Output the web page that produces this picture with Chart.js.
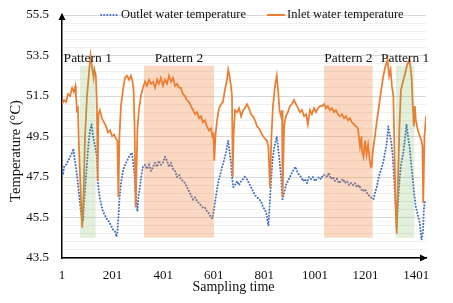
<!DOCTYPE html>
<html>
<head>
<meta charset="utf-8">
<script src="https://cdn.jsdelivr.net/npm/chart.js@4.4.1/dist/chart.umd.min.js"></script>
<style>
  html, body { margin: 0; padding: 0; background: #fff; }
  #wrap { width: 453px; height: 303px; }
</style>
</head>
<body>
<div id="wrap"><canvas id="tempChart" width="453" height="303"></canvas></div>
<script>
// sampling index ticks and y axis labels
const xTickValues = [1, 201, 401, 601, 801, 1001, 1201, 1401];
const yTickValues = [43.5, 45.5, 47.5, 49.5, 51.5, 53.5, 55.5];

// inlet water temperature (orange)
const inletSample = [
  1, 9, 17, 25, 33, 41, 48, 54, 56, 60,
  64, 68, 74, 81, 86, 92, 100, 108, 114, 120,
  126, 129, 135, 139, 142, 145, 151, 159, 167, 175,
  183, 191, 199, 207, 214, 220, 224, 228, 234, 242,
  250, 258, 266, 274, 280, 284, 288, 292, 295, 299,
  305, 313, 321, 329, 337, 345, 353, 361, 369, 377,
  384, 392, 400, 408, 416, 424, 432, 440, 448, 456,
  464, 471, 479, 487, 495, 503, 511, 519, 527, 535,
  543, 550, 558, 566, 574, 582, 590, 596, 600, 603,
  608, 614, 622, 630, 637, 645, 653, 658, 663, 669,
  673, 676, 679, 685, 693, 701, 709, 717, 724, 732,
  740, 748, 756, 764, 772, 780, 788, 796, 803, 811,
  817, 823, 829, 835, 843, 850, 855, 861, 867, 871,
  873, 879, 886, 894, 902, 910, 918, 926, 934, 942,
  950, 958, 966, 973, 981, 989, 997, 1005, 1013, 1021,
  1029, 1037, 1045, 1052, 1060, 1068, 1076, 1084, 1092, 1100,
  1108, 1116, 1124, 1132, 1139, 1147, 1155, 1163, 1171, 1179,
  1185, 1187, 1193, 1199, 1205, 1211, 1217, 1222, 1225, 1230,
  1238, 1246, 1254, 1262, 1270, 1278, 1288, 1294, 1300, 1305,
  1311, 1315, 1319, 1324, 1329, 1335, 1341, 1349, 1357, 1365,
  1373, 1379, 1383, 1387, 1392, 1396, 1400, 1408, 1416, 1422,
  1426, 1429, 1434, 1440
];
const inletTemp = [
  51.1, 51.3, 51.2, 51.6, 51.5, 51.9, 51.7, 52.0, 51.6, 50.8,
  50.9, 49.0, 47.0, 45.0, 46.5, 49.5, 51.5, 52.7, 53.5, 52.9,
  52.4, 52.8, 52.5, 51.0, 47.3, 50.6, 50.8, 50.4, 50.2, 50.0,
  49.7, 49.8, 49.5, 49.6, 49.4, 49.3, 46.5, 49.5, 51.0, 51.8,
  52.4, 52.5, 52.3, 52.5, 52.2, 51.8, 50.0, 46.0, 47.5, 49.8,
  50.8, 51.5, 51.9, 52.2, 52.0, 52.3, 52.1, 52.2, 51.9, 52.3,
  52.1, 52.4, 52.0, 52.3, 52.1, 52.5, 52.2, 52.4, 52.0, 52.1,
  51.9, 51.9, 51.6, 51.5, 51.3, 51.2, 51.0, 50.8, 50.6, 50.7,
  50.4, 50.5, 50.2, 50.3, 50.0, 49.8, 49.9, 49.5, 49.6, 48.3,
  49.6, 50.3, 50.9, 51.1, 51.2, 51.8, 52.3, 52.8, 52.5, 52.0,
  51.5, 47.5, 49.5, 50.8, 50.7, 50.9, 50.5, 50.8, 50.9, 51.1,
  50.9, 50.6, 50.5, 50.3, 50.0, 49.9, 49.7, 49.5, 49.4, 49.3,
  49.0, 47.0, 49.5, 51.0, 52.0, 52.5, 51.8, 50.8, 50.5, 50.8,
  46.5, 50.0, 50.5, 50.7, 51.0, 51.1, 51.3, 51.1, 50.9, 50.7,
  50.8, 50.5, 50.6, 50.1, 50.8, 50.6, 50.9, 50.7, 50.9, 51.0,
  51.0, 51.1, 50.9, 51.0, 50.8, 50.9, 50.7, 50.8, 50.6, 50.5,
  50.6, 50.4, 50.5, 50.3, 50.4, 50.2, 50.1, 50.0, 49.9, 49.0,
  49.5, 48.8, 48.5, 49.3, 48.6, 49.1, 48.4, 48.0, 48.0, 48.8,
  49.5, 50.3, 51.0, 51.7, 52.4, 52.9, 53.3, 52.5, 52.8, 52.0,
  51.5, 49.0, 46.5, 44.7, 47.0, 50.0, 51.8, 52.2, 52.6, 53.0,
  53.3, 52.9, 52.4, 51.2, 50.0, 51.0, 50.3, 49.8, 49.5, 49.3,
  49.0, 46.2, 49.5, 50.5
];

// outlet water temperature (blue dots)
const outletSample = [
  1, 5, 9, 17, 25, 33, 41, 46, 50, 56,
  62, 68, 74, 80, 84, 88, 94, 100, 106, 112,
  118, 124, 129, 135, 139, 143, 149, 155, 163, 171,
  179, 187, 195, 203, 211, 217, 220, 224, 228, 234,
  242, 250, 258, 266, 277, 282, 288, 292, 299, 303,
  309, 315, 321, 329, 337, 345, 353, 361, 369, 377,
  384, 392, 400, 408, 416, 424, 432, 440, 448, 456,
  464, 471, 479, 487, 495, 503, 511, 519, 527, 535,
  543, 550, 558, 566, 574, 582, 590, 595, 598, 604,
  610, 618, 626, 634, 641, 649, 658, 663, 669, 673,
  678, 685, 693, 701, 709, 717, 724, 732, 740, 748,
  756, 764, 772, 780, 788, 796, 803, 809, 817, 821,
  827, 833, 839, 850, 855, 861, 867, 873, 879, 886,
  894, 902, 910, 918, 924, 930, 938, 946, 954, 962,
  970, 977, 985, 993, 1001, 1009, 1017, 1025, 1033, 1041,
  1049, 1056, 1064, 1072, 1080, 1088, 1096, 1104, 1112, 1120,
  1128, 1136, 1143, 1151, 1159, 1167, 1175, 1183, 1191, 1199,
  1207, 1214, 1222, 1232, 1238, 1245, 1252, 1258, 1266, 1272,
  1278, 1284, 1291, 1296, 1302, 1308, 1313, 1319, 1324, 1329,
  1335, 1341, 1349, 1357, 1363, 1369, 1375, 1381, 1387, 1392,
  1400, 1408, 1416, 1422, 1428, 1432, 1436
];
const outletTemp = [
  47.8, 47.6, 48.0, 48.1, 48.3, 48.5, 48.7, 48.9, 48.5, 48.0,
  47.4, 46.7, 46.0, 45.4, 45.3, 46.2, 47.2, 48.2, 49.2, 49.8,
  50.1, 49.5, 49.2, 48.8, 48.5, 47.2, 46.6, 46.2, 45.8, 45.6,
  45.4, 45.3, 45.1, 44.9, 44.8, 44.55, 44.8, 45.5, 46.4, 47.2,
  47.8, 48.1, 48.3, 48.5, 48.7, 48.3, 47.5, 46.6, 45.8, 46.5,
  47.0, 47.6, 48.0, 48.1, 47.9, 48.1, 47.8, 48.0, 48.2, 48.0,
  48.3, 48.1, 48.2, 48.5, 48.3, 48.0, 48.2, 47.9, 47.8, 47.5,
  47.6, 47.4, 47.3, 47.2, 47.0, 46.8, 46.6, 46.4, 46.5, 46.3,
  46.2, 46.1, 46.0, 46.0, 45.8, 45.7, 45.5, 45.45, 45.6, 46.1,
  46.6, 47.2, 47.6, 48.0, 48.3, 48.7, 49.3, 48.8, 48.2, 47.5,
  47.0, 47.1, 47.3, 47.1, 47.3, 47.4, 47.5, 47.4, 47.2, 47.0,
  46.8, 46.6, 46.5, 46.4, 46.3, 46.0, 45.9, 45.7, 45.1, 45.9,
  47.2, 48.3, 48.9, 49.5, 49.0, 48.3, 47.5, 46.4, 46.7, 47.1,
  47.3, 47.5, 47.7, 47.9, 48.0, 47.8, 47.6, 47.5, 47.3, 47.4,
  47.2, 47.5, 47.4, 47.5, 47.3, 47.4, 47.5, 47.4, 47.6, 47.6,
  47.5, 47.7, 47.4, 47.5, 47.3, 47.4, 47.2, 47.3, 47.4, 47.2,
  47.3, 47.1, 47.2, 47.1, 47.2, 47.0, 47.1, 46.9, 46.8, 46.9,
  46.7, 46.6, 46.5, 46.4, 46.7, 47.0, 47.4, 47.7, 48.0, 48.3,
  48.7, 49.1, 50.0, 49.6, 49.3, 48.6, 47.6, 46.3, 45.0, 46.2,
  47.3, 48.1, 48.6, 49.4, 50.1, 49.5, 49.0, 48.2, 47.5, 46.8,
  46.0, 45.6, 45.2, 44.4, 44.8, 46.0, 46.3
];

// shaded operating patterns
const patternLabels = ['Pattern 1', 'Pattern 2', 'Pattern 2', 'Pattern 1'];
const patternStart = [72, 325, 1037, 1321];
const patternEnd = [134, 602, 1229, 1394];
const patternKind = [1, 2, 2, 1];
const shadeLow = 44.5;
const shadeHigh = 53.0;

const FONT = "'Liberation Serif', 'Times New Roman', serif";
const BLUE = '#4472C4';
const ORANGE = '#ED7D31';
const TEXT = '#111111';

// minor gridlines every 0.4 (5 per major step)
const yGrid = [];
for (let i = 0; i <= 30; i++) yGrid.push(+(43.5 + i * 0.4).toFixed(1));

const overlay = {
  id: 'overlay',
  afterDatasetsDraw(chart) {
    const { ctx, scales: { x, y } } = chart;
    ctx.save();
    patternStart.forEach((s, i) => {
      const x0 = x.getPixelForValue(s);
      const x1 = x.getPixelForValue(patternEnd[i]);
      const y0 = y.getPixelForValue(shadeHigh);
      const y1 = y.getPixelForValue(shadeLow);
      ctx.fillStyle = patternKind[i] === 1 ? 'rgba(112,173,71,0.2)' : 'rgba(237,125,49,0.3)';
      ctx.fillRect(x0, y0, x1 - x0, y1 - y0);
      ctx.fillStyle = TEXT;
      ctx.font = '13.5px ' + FONT;
      ctx.textAlign = 'center';
      ctx.textBaseline = 'alphabetic';
      ctx.fillText(patternLabels[i], (x0 + x1) / 2, y0 - 4);
    });
    ctx.restore();
  },
  afterDraw(chart) {
    const { ctx, chartArea: a } = chart;
    ctx.save();
    // axis arrows
    ctx.fillStyle = '#000';
    ctx.beginPath();
    ctx.moveTo(a.left, a.top - 2);
    ctx.lineTo(a.left - 3.5, a.top + 5);
    ctx.lineTo(a.left + 3.5, a.top + 5);
    ctx.closePath();
    ctx.fill();
    ctx.beginPath();
    ctx.moveTo(a.right + 1, a.bottom);
    ctx.lineTo(a.right - 6, a.bottom - 3.5);
    ctx.lineTo(a.right - 6, a.bottom + 3.5);
    ctx.closePath();
    ctx.fill();

    // legend
    ctx.font = '12.5px ' + FONT;
    ctx.textBaseline = 'middle';
    ctx.textAlign = 'left';
    ctx.lineWidth = 2;
    ctx.strokeStyle = BLUE;
    ctx.lineCap = 'round';
    ctx.setLineDash([0.1, 3]);
    ctx.beginPath();
    ctx.moveTo(101, 15);
    ctx.lineTo(118, 15);
    ctx.stroke();
    ctx.setLineDash([]);
    ctx.lineCap = 'butt';
    ctx.strokeStyle = ORANGE;
    ctx.beginPath();
    ctx.moveTo(267, 15);
    ctx.lineTo(285, 15);
    ctx.stroke();
    ctx.fillStyle = TEXT;
    ctx.fillText(chart.data.datasets[0].label, 121, 15);
    ctx.fillText(chart.data.datasets[1].label, 287, 15);

    // axis titles
    ctx.font = '14px ' + FONT;
    ctx.textAlign = 'center';
    ctx.textBaseline = 'alphabetic';
    ctx.fillText('Sampling time', 233.5, 291);
    ctx.translate(20, 151);
    ctx.rotate(-Math.PI / 2);
    ctx.font = '14.5px ' + FONT;
    ctx.fillText('Temperature (°C)', 0, 0);
    ctx.restore();
  }
};

const ctx = document.getElementById('tempChart').getContext('2d');
const tempChart = new Chart(ctx, {
  type: 'line',
  data: {
    datasets: [
      {
        label: 'Outlet water temperature',
        data: outletSample.map((s, i) => ({ x: s, y: outletTemp[i] })),
        borderColor: BLUE,
        borderWidth: 2,
        borderDash: [0.1, 3],
        borderCapStyle: 'round',
        pointRadius: 0,
        tension: 0,
        order: 1
      },
      {
        label: 'Inlet water temperature',
        data: inletSample.map((s, i) => ({ x: s, y: inletTemp[i] })),
        borderColor: ORANGE,
        borderWidth: 1.75,
        pointRadius: 0,
        tension: 0,
        order: 0
      }
    ]
  },
  options: {
    responsive: false,
    animation: false,
    layout: { padding: { left: 0, right: 27, top: 15, bottom: 0 } },
    scales: {
      x: {
        type: 'linear',
        min: 1,
        max: 1440,
        afterBuildTicks: (scale) => { scale.ticks = xTickValues.map(v => ({ value: v })); },
        afterFit: (scale) => { scale.height = 45; scale.paddingLeft = 0; scale.paddingRight = 0; },
        grid: { display: false, drawTicks: false },
        border: { color: '#000', width: 1.5 },
        ticks: {
          autoSkip: false,
          maxRotation: 0,
          padding: 10,
          color: TEXT,
          font: { family: FONT, size: 13 },
          callback: (v) => String(v)
        }
      },
      y: {
        min: 43.5,
        max: 55.5,
        afterBuildTicks: (scale) => { scale.ticks = yGrid.map(v => ({ value: v })); },
        afterFit: (scale) => { scale.width = 62; scale.paddingTop = 0; scale.paddingBottom = 0; },
        grid: {
          drawTicks: false,
          color: (c) => (c.tick && yTickValues.some(t => Math.abs(t - c.tick.value) < 1e-6)) ? '#D9D9D9' : '#F0F0F0',
          lineWidth: 1
        },
        border: { color: '#000', width: 1.5 },
        ticks: {
          autoSkip: false,
          padding: 13,
          color: TEXT,
          font: { family: FONT, size: 13 },
          callback: (v) => yTickValues.some(t => Math.abs(t - v) < 1e-6) ? v.toFixed(1) : ''
        }
      }
    },
    plugins: {
      legend: { display: false },
      tooltip: { enabled: false }
    }
  },
  plugins: [overlay]
});
</script>
</body>
</html>
